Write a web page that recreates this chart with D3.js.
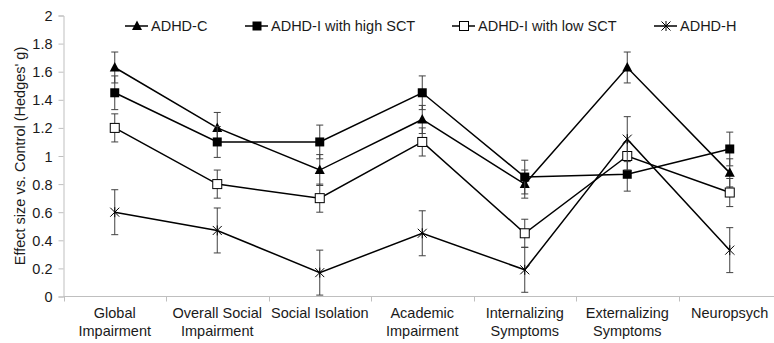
<!DOCTYPE html>
<html>
<head>
<meta charset="utf-8">
<script src="https://cdn.jsdelivr.net/npm/d3@7"></script>
<style>
  body { margin: 0; background: #fff; }
  svg { display: block; font-family: "Liberation Sans", Arial, sans-serif; }
  .axis-line { stroke: #bfbfbf; stroke-width: 1; }
  text { fill: #1a1a1a; font-size: 14.5px; }
</style>
</head>
<body>
<svg width="774" height="343"></svg>
<script>
// categories along the x axis (line breaks split the labels)
var categories = ["Global\nImpairment", "Overall Social\nImpairment", "Social Isolation",
    "Academic\nImpairment", "Internalizing\nSymptoms", "Externalizing\nSymptoms", "Neuropsych"];

var seriesNames = ["ADHD-C", "ADHD-I with high SCT", "ADHD-I with low SCT", "ADHD-H"];
var seriesMarkers = ["triangle", "square", "openSquare", "star"];

// effect sizes
var adhdC    = [1.63, 1.20, 0.90, 1.26, 0.80, 1.63, 0.88];
var highSCT  = [1.45, 1.10, 1.10, 1.45, 0.85, 0.87, 1.05];
var lowSCT   = [1.20, 0.80, 0.70, 1.10, 0.45, 1.00, 0.74];
var adhdH    = [0.60, 0.47, 0.17, 0.45, 0.19, 1.12, 0.33];

// half-width of the error bars
var adhdCErr   = [0.11, 0.11, 0.11, 0.10, 0.10, 0.11, 0.10];
var highSCTErr = [0.12, 0.11, 0.12, 0.12, 0.12, 0.12, 0.12];
var lowSCTErr  = [0.10, 0.10, 0.10, 0.10, 0.10, 0.10, 0.10];
var adhdHErr   = [0.16, 0.16, 0.16, 0.16, 0.16, 0.16, 0.16];

var yTicks = [0, 0.2, 0.4, 0.6, 0.8, 1, 1.2, 1.4, 1.6, 1.8, 2];

var seriesValues = [adhdC, highSCT, lowSCT, adhdH];
var seriesErrors = [adhdCErr, highSCTErr, lowSCTErr, adhdHErr];

var series = seriesNames.map(function(name, i) {
    return {
        name: name,
        marker: seriesMarkers[i],
        points: categories.map(function(c, j) {
            return {cat: c, value: seriesValues[i][j], err: seriesErrors[i][j]};
        })
    };
});

var svg = d3.select('svg');

var xScale = d3.scaleBand()
    .domain(categories)
    .range([63.5, 781])
    .paddingInner(0)
    .paddingOuter(0);

var yScale = d3.scaleLinear()
    .domain([0, 2])
    .range([296.5, 15.5]);

function cx(d) { return xScale(d.cat) + xScale.bandwidth() / 2; }

// y axis
var yAxis = svg.append('g')
    .attr('transform', 'translate(63.5,0)')
    .call(d3.axisLeft(yScale).tickValues(yTicks).tickSize(5).tickPadding(6)
        .tickFormat(function(d) { return String(+d.toFixed(1)); }));
yAxis.select('.domain').attr('stroke', '#bfbfbf');
yAxis.selectAll('.tick line').attr('stroke', '#bfbfbf');
yAxis.selectAll('.tick text').attr('font-size', '14.5px').attr('fill', '#1a1a1a')
    .attr('font-family', '"Liberation Sans", Arial, sans-serif').attr('dy', '0.35em');

// x axis line and tick marks at category boundaries
var xEdges = categories.map(function(c) { return xScale(c); }).concat([781]);
svg.append('line').attr('class', 'axis-line')
    .attr('x1', 63.5).attr('x2', 781)
    .attr('y1', yScale(0)).attr('y2', yScale(0));
svg.selectAll('.xtick').data(xEdges).enter().append('line')
    .attr('class', 'axis-line')
    .attr('x1', function(d) { return Math.round(d) + 0.5; })
    .attr('x2', function(d) { return Math.round(d) + 0.5; })
    .attr('y1', yScale(0)).attr('y2', yScale(0) + 5);

// category labels
var xLabels = svg.selectAll('.xlabel').data(categories).enter().append('text')
    .attr('class', 'xlabel')
    .attr('text-anchor', 'middle')
    .attr('transform', function(d) { return 'translate(' + (xScale(d) + xScale.bandwidth() / 2) + ',318)'; });
xLabels.selectAll('tspan').data(function(d) { return d.split('\n'); }).enter().append('tspan')
    .attr('x', 0)
    .attr('y', function(d, i) { return i * 17.5; })
    .text(function(d) { return d; });

// y axis title
svg.append('text')
    .attr('text-anchor', 'middle')
    .attr('transform', 'translate(25,156) rotate(-90)')
    .text("Effect size vs. Control (Hedges' g)");

// marker drawing
function drawMarker(sel, type) {
    if (type === 'triangle') {
        sel.append('path').attr('d', 'M0,-5.5L5,4L-5,4Z').attr('fill', '#000');
    } else if (type === 'square') {
        sel.append('rect').attr('x', -4.5).attr('y', -4.5).attr('width', 9).attr('height', 9).attr('fill', '#000');
    } else if (type === 'openSquare') {
        sel.append('rect').attr('x', -4.5).attr('y', -4.5).attr('width', 9).attr('height', 9)
            .attr('fill', '#fff').attr('stroke', '#000').attr('stroke-width', 1);
    } else {
        sel.append('path').attr('d', 'M-4.5,-4.5L4.5,4.5M-4.5,4.5L4.5,-4.5M0,-5L0,5')
            .attr('fill', 'none').attr('stroke', '#000').attr('stroke-width', 1);
    }
}

var line = d3.line().x(cx).y(function(d) { return yScale(d.value); });

series.forEach(function(s) {
    var g = svg.append('g');
    // connecting line
    g.append('path').datum(s.points)
        .attr('d', line)
        .attr('fill', 'none')
        .attr('stroke', '#000')
        .attr('stroke-width', 1.5);
    // error bars
    var eb = g.selectAll('.err').data(s.points).enter().append('g')
        .attr('stroke', '#404040').attr('stroke-width', 1);
    eb.append('line')
        .attr('x1', cx).attr('x2', cx)
        .attr('y1', function(d) { return yScale(d.value + d.err); })
        .attr('y2', function(d) { return yScale(d.value - d.err); });
    eb.append('line')
        .attr('x1', function(d) { return cx(d) - 3.5; }).attr('x2', function(d) { return cx(d) + 3.5; })
        .attr('y1', function(d) { return yScale(d.value + d.err); })
        .attr('y2', function(d) { return yScale(d.value + d.err); });
    eb.append('line')
        .attr('x1', function(d) { return cx(d) - 3.5; }).attr('x2', function(d) { return cx(d) + 3.5; })
        .attr('y1', function(d) { return yScale(d.value - d.err); })
        .attr('y2', function(d) { return yScale(d.value - d.err); });
    // markers
    g.selectAll('.mk').data(s.points).enter().append('g')
        .attr('transform', function(d) { return 'translate(' + cx(d) + ',' + yScale(d.value) + ')'; })
        .each(function() { drawMarker(d3.select(this), s.marker); });
});

// legend
var legendX = [151, 271, 478, 680];
var legend = svg.selectAll('.legend').data(series).enter().append('g')
    .attr('transform', function(d, i) { return 'translate(' + legendX[i] + ',26)'; });
legend.append('line')
    .attr('x1', -26).attr('x2', -3).attr('y1', 0).attr('y2', 0)
    .attr('stroke', '#000').attr('stroke-width', 1.5);
legend.append('g')
    .attr('transform', 'translate(-14,0)')
    .each(function(d) { drawMarker(d3.select(this), d.marker); });
legend.append('text')
    .attr('x', 0).attr('dy', '0.35em')
    .text(function(d) { return d.name; });
</script>
</body>
</html>
